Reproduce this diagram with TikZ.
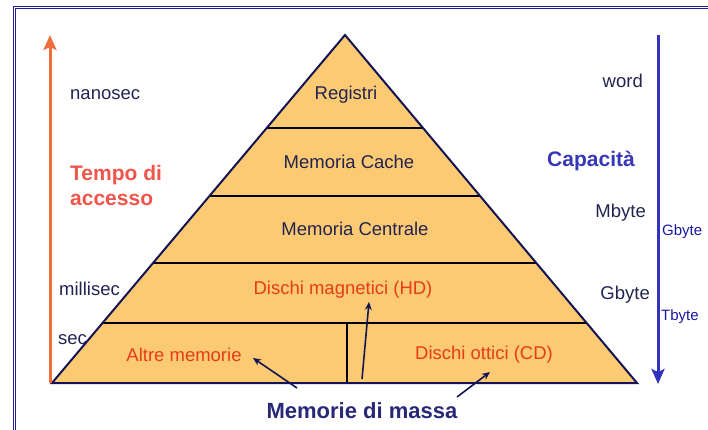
\documentclass[tikz,border=0pt]{standalone}
\usepackage{fontspec}
\setmainfont{Liberation Sans}
\usetikzlibrary{arrows.meta,calc}
\definecolor{frameblue}{RGB}{30,30,140}
\definecolor{pyrfill}{RGB}{252,202,115}
\definecolor{pyredge}{RGB}{20,20,85}
\definecolor{navytext}{RGB}{35,35,80}
\definecolor{redtext}{RGB}{230,60,25}
\definecolor{coral}{RGB}{240,85,75}
\definecolor{capblue}{RGB}{55,55,185}
\definecolor{massablue}{RGB}{40,40,120}
\definecolor{smallblue}{RGB}{25,25,160}
\definecolor{orangearrow}{RGB}{240,110,60}
\definecolor{bluearrow}{RGB}{50,50,190}
\tikzset{
  lbl/.style={inner sep=0pt, font=\fontsize{18.5}{20}\selectfont, text=navytext},
  pyrlbl/.style={inner sep=0pt, font=\fontsize{18.5}{20}\selectfont},
  title/.style={inner sep=0pt, font=\fontsize{21}{25}\selectfont\bfseries},
  small/.style={inner sep=0pt, font=\fontsize{15}{16}\selectfont, text=smallblue},
  band/.style={line width=1.5pt, black},
  pointer/.style={line width=1.6pt, pyredge, -{Stealth[length=8pt,width=7pt]}},
}
\begin{document}
\begin{tikzpicture}[x=1pt,y=-1pt]
\useasboundingbox (0,0) rectangle (708,429);
\clip (0,0) rectangle (708,429);
% frame
\draw[frameblue, line width=1pt] (13.3,6.3) rectangle (720,440);
\draw[frameblue, line width=0.8pt] (15.5,8.6) rectangle (720,440);
% text under the pyramid edge
\node[lbl, anchor=west] (sec) at (58,340) {sec};
% pyramid
\coordinate (apex) at (345,35);
\coordinate (bl) at (52,383);
\coordinate (br) at (637,383);
\fill[pyrfill] (apex) -- (bl) -- (br) -- cycle;
\foreach \t/\n in {0.2672/a,0.4626/b,0.6552/c,0.8276/d}{
  \coordinate (L\n) at ($(apex)!\t!(bl)$);
  \coordinate (R\n) at ($(apex)!\t!(br)$);
  \draw[band] (L\n) -- (R\n);
}
\coordinate (divtop) at (347,323);
\coordinate (divbot) at (347,383);
\draw[band] (divtop) -- (divbot);
\draw[pyredge, line width=2pt, line join=miter] (apex) -- (bl) -- (br) -- cycle;
% pyramid labels
\node[pyrlbl, text=navytext] (reg) at (346,95) {Registri};
\node[pyrlbl, text=navytext] (cache) at (349,162) {Memoria Cache};
\node[pyrlbl, text=navytext] (centr) at (355,229) {Memoria Centrale};
\node[pyrlbl, text=redtext] (hd) at (343,290) {Dischi magnetici (HD)};
\node[pyrlbl, text=redtext] (altre) at (184,355) {Altre memorie};
\node[pyrlbl, text=redtext] (cd) at (484,355) {Dischi ottici (CD)};
% title bottom
\node[title, font=\fontsize{22}{25}\selectfont\bfseries, text=massablue] (massa) at (362,411) {Memorie di massa};
\coordinate (p1s) at (297,388);
\coordinate (p1e) at (253,358);
\coordinate (p2s) at (362,379);
\coordinate (p2e) at (369,302);
\coordinate (p3s) at (457,397);
\coordinate (p3e) at (490,372);
\draw[pointer] (p1s) -- (p1e);
\draw[pointer] (p2s) -- (p2e);
\draw[pointer] (p3s) -- (p3e);
% left side
\coordinate (oa1) at (50,383);
\coordinate (oa2) at (50,35);
\draw[orangearrow, line width=3pt, -{Stealth[length=15pt,width=13pt,inset=3pt]}] (oa1) -- (oa2);
\node[lbl, anchor=west] (nano) at (70,95) {nanosec};
\node[title, text=coral, anchor=west, align=left] (tempo) at (70,185) {Tempo di\\accesso};
\node[lbl, anchor=west] (milli) at (59,289) {millisec};
% right side
\coordinate (ba1) at (658,35);
\coordinate (ba2) at (658,384);
\draw[bluearrow, line width=3pt, -{Stealth[length=15pt,width=13pt,inset=3pt]}] (ba1) -- (ba2);
\node[lbl, anchor=east] (word) at (643,81) {word};
\node[title, text=capblue] (cap) at (591,161) {Capacità};
\node[lbl, anchor=east] (mb) at (646,213) {Mbyte};
\node[small, anchor=west] (gb1) at (662,232) {Gbyte};
\node[lbl, anchor=east] (gb2) at (650,295) {Gbyte};
\node[small, anchor=west] (tb) at (661,317) {Tbyte};
\end{tikzpicture}
\end{document}
